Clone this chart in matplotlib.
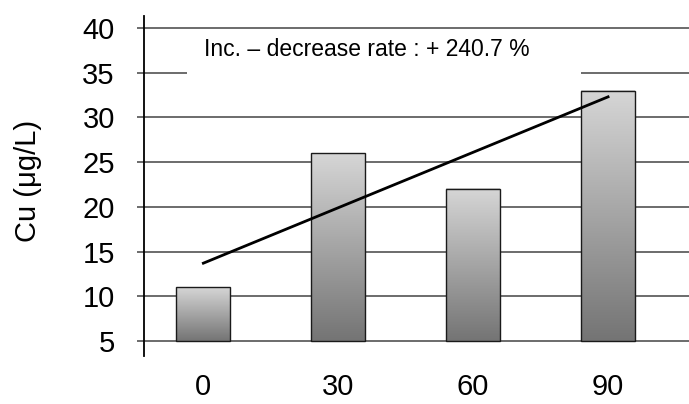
import numpy as np
import matplotlib
matplotlib.use('Agg')
import matplotlib.pyplot as plt
from matplotlib.patches import Rectangle

plt.rcParams['font.family'] = ['Liberation Sans', 'DejaVu Sans']

# Datos
dias = ['0', '30', '60', '90']
cu = [11, 26, 22, 33]
yticks = [5, 10, 15, 20, 25, 30, 35, 40]
texto = 'Inc. – decrease rate : + 240.7 %'

x = np.arange(len(dias))
ancho = 0.40
base = 5

fig = plt.figure(figsize=(6.89, 4.04), dpi=100)
ax = fig.add_axes([0.209, 0.1188, 0.791, 0.8416])

ax.set_xlim(-0.44, 3.6)
ax.set_ylim(3.32, 41.34)

# Barras con degradado (claro arriba, oscuro abajo)
grad = np.linspace(0, 1, 256).reshape(-1, 1)
cmap = matplotlib.colors.LinearSegmentedColormap.from_list('gris', ['#747474', '#d6d6d6'])
for xi, v in zip(x, cu):
    ax.imshow(grad, extent=(xi - ancho / 2, xi + ancho / 2, base, v), origin='lower',
              cmap=cmap, aspect='auto', zorder=2, interpolation='bilinear')
    ax.add_patch(Rectangle((xi - ancho / 2, base), ancho, v - base, fill=False,
                           edgecolor='#1a1a1a', lw=1.0, zorder=3))

# Linea de tendencia
m, b = np.polyfit(x, cu, 1)
ax.plot([x[0], x[-1]], [b + m * x[0], b + m * x[-1]], color='black', lw=2, zorder=4)

# Cuadro de texto
ax.add_patch(Rectangle((-0.12, 33), 2.92, 6, facecolor='white', edgecolor='none', zorder=1.5))
ax.text(1.21, 37.6, texto, fontsize=16.5, ha='center', va='center', zorder=5)

ax.set_yticks(yticks)
ax.set_xticks(x)
ax.set_xticklabels(dias)
ax.yaxis.grid(True, color='#444444', lw=1.1, zorder=1)
ax.set_axisbelow(True)

for s in ['top', 'right', 'bottom']:
    ax.spines[s].set_visible(False)
ax.spines['left'].set_linewidth(1.3)

ax.tick_params(axis='y', length=5, width=1.1, color='#444444', pad=16, labelsize=21)
ax.tick_params(axis='x', length=0, pad=12, labelsize=21)

ax.set_ylabel('Cu (μg/L)', fontsize=21)
ax.yaxis.set_label_coords(-0.187, 0.515)

fig.savefig('out.png', dpi=100)
